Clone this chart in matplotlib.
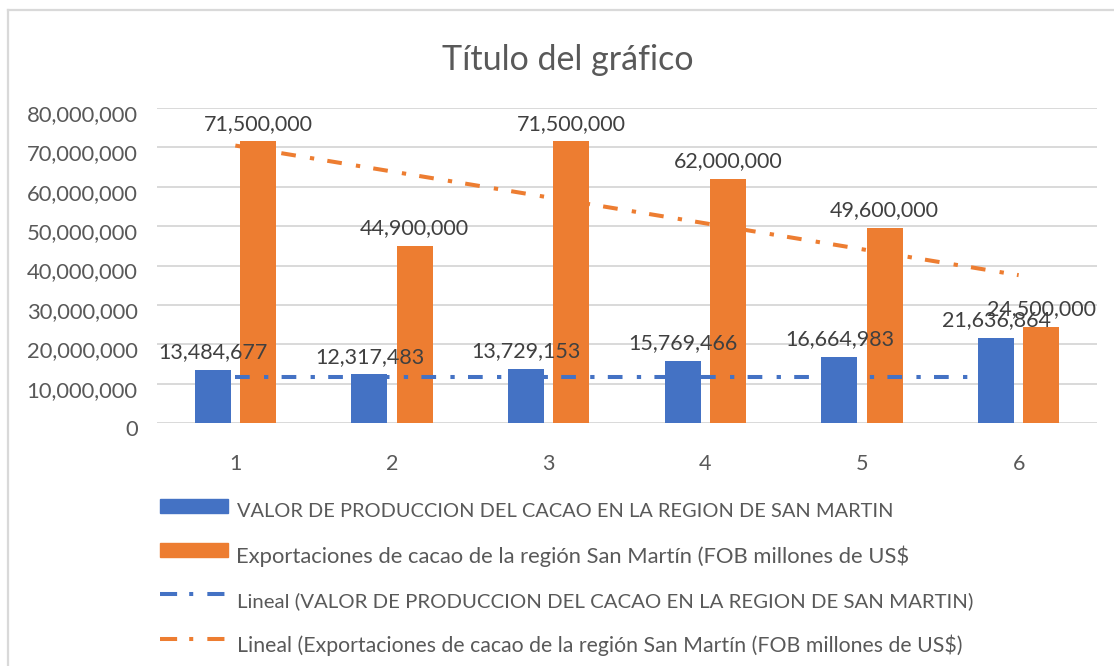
import matplotlib
matplotlib.use("Agg")
import matplotlib.pyplot as plt
import matplotlib.transforms as mtransforms
from matplotlib.lines import Line2D
from matplotlib.patches import Rectangle
import numpy as np

# ---- data ----
categories = ["1", "2", "3", "4", "5", "6"]
produccion = [13484677, 12317483, 13729153, 15769466, 16664983, 21636864]
exportaciones = [71500000, 44900000, 71500000, 62000000, 49600000, 24500000]
trend_x = [1, 6]
produccion_trend = [11680000, 11680000]
exportaciones_trend = [70460000, 37550000]
yticks = [0, 10000000, 20000000, 30000000, 40000000, 50000000, 60000000, 70000000, 80000000]
title = "Título del gráfico"
legend_labels = [
    "VALOR DE PRODUCCION DEL CACAO EN LA REGION DE SAN MARTIN",
    "Exportaciones de cacao de la región San Martín (FOB millones de US$",
    "Lineal (VALOR DE PRODUCCION DEL CACAO EN LA REGION DE SAN MARTIN)",
    "Lineal (Exportaciones de cacao de la región San Martín (FOB millones de US$)",
]

BLUE = "#4472C4"
ORANGE = "#ED7D31"
GRID = "#D9D9D9"
TXT = "#595959"
LBL = "#404040"
FONT = ["Lato", "DejaVu Sans"]

W, H = 1114, 666
fig = plt.figure(figsize=(W / 100, H / 100), dpi=100)
plt.rcParams['font.family'] = FONT

def fx(px):
    return px / W

def fy(py):
    return 1 - py / H

# axes
left, right, top, bottom = 157, 1097, 108, 423
ax = fig.add_axes([fx(left), fy(bottom), (right - left) / W, (bottom - top) / H])
for s in ax.spines.values():
    s.set_visible(False)

x = np.arange(1, len(categories) + 1)
bw = 0.23
off = 0.144
ax.bar(x - off, produccion, width=bw, color=BLUE, zorder=3)
ax.bar(x + off, exportaciones, width=bw, color=ORANGE, zorder=3)

dash_pat = (3.65, 3.55, 1.07, 3.3)
ax.plot(trend_x, produccion_trend, color=BLUE, lw=2.9, dashes=dash_pat,
        solid_capstyle='butt', dash_capstyle='butt', zorder=4)
ax.plot(trend_x, exportaciones_trend, color=ORANGE, lw=2.9, dashes=dash_pat,
        solid_capstyle='butt', dash_capstyle='butt', zorder=4)

for xi, v in zip(x, produccion):
    ax.annotate(f"{v:,}", (xi - off, v), xytext=(0, 8.5), textcoords="offset points",
                ha="center", va="baseline", fontsize=15.5, color=LBL, zorder=5)
for xi, v in zip(x, exportaciones):
    ax.annotate(f"{v:,}", (xi + off, v), xytext=(0, 8.5), textcoords="offset points",
                ha="center", va="baseline", fontsize=15.5, color=LBL, zorder=5)

ax.set_xlim(0.5, len(categories) + 0.5)
ax.set_ylim(0, 80000000)
ax.set_yticks(yticks)
ax.set_yticklabels([f"{t:,}" for t in yticks])
ax.set_xticks(x)
ax.set_xticklabels(categories)
ax.yaxis.grid(True, color=GRID, lw=1.4, zorder=0)
ax.set_axisbelow(True)
ax.tick_params(axis="both", length=0, labelcolor=TXT)
ax.tick_params(axis="y", pad=14, labelsize=15.8)
ax.tick_params(axis="x", pad=22, labelsize=15.5)
shift = mtransforms.ScaledTranslation(0, -5 / 100, fig.dpi_scale_trans)
for lab in ax.get_yticklabels():
    lab.set_transform(lab.get_transform() + shift)

# title
fig.text(fx(568), fy(70), title, ha="center", va="baseline", fontsize=24.5, color=TXT)

# frame
fig.add_artist(Line2D([fx(8), fx(8)], [fy(10), 0], color=GRID, lw=1.6))
fig.add_artist(Line2D([fx(8), 1], [fy(10), fy(10)], color=GRID, lw=1.6))

# legend (manual)
rows = [506, 550, 594, 639]
baselines = [517, 563, 607, 652]
text_x = [237, 236, 237, 237]
sizes = [14.4, 15.8, 14.7, 15.3]
for i, (yy, lab) in enumerate(zip(rows, legend_labels)):
    if i < 2:
        col = BLUE if i == 0 else ORANGE
        fig.add_artist(Rectangle((fx(160), fy(yy + 7)), (228 - 160) / W, 14 / H,
                                 color=col, transform=fig.transFigure))
    else:
        col = BLUE if i == 2 else ORANGE
        fig.add_artist(Line2D([fx(160), fx(228)], [fy(yy), fy(yy)], color=col, lw=2.9,
                              dashes=(4.25, 3.0, 1.0, 3.5), dash_capstyle='butt'))
    fig.text(fx(text_x[i]), fy(baselines[i]), lab, ha="left", va="baseline",
             fontsize=sizes[i], color=TXT)

fig.savefig("out.png", dpi=100)
